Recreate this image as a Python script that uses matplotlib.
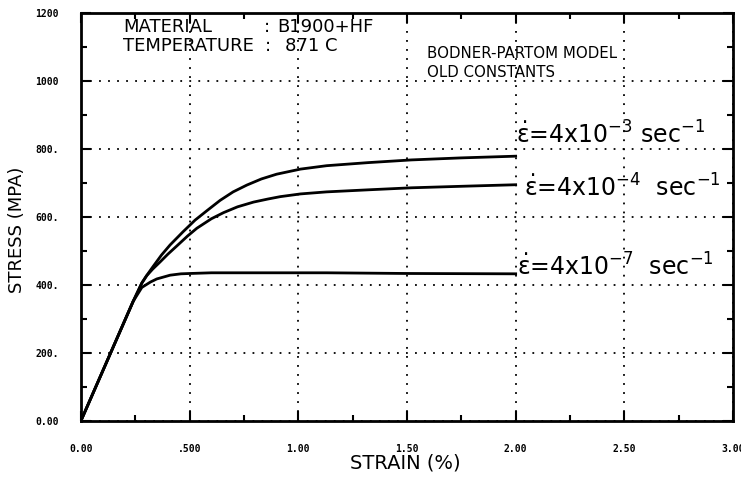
import matplotlib
matplotlib.use("Agg", force=True)
import matplotlib.pyplot as plt
from matplotlib.ticker import MultipleLocator

# Curves: strain (%) vs stress (MPa)
strain_3 = [0.0, 0.24, 0.28, 0.30, 0.33, 0.37, 0.41, 0.47, 0.525, 0.58, 0.64, 0.70, 0.763, 0.83, 0.90,
            1.01, 1.13, 1.32, 1.52, 1.75, 2.0]
stress_3 = [0, 351, 405, 425, 452, 487, 517, 556, 590, 618, 648, 673, 693, 711, 725,
            740, 750, 759, 767, 773, 778]

strain_4 = [0.0, 0.24, 0.28, 0.303, 0.33, 0.364, 0.40, 0.441, 0.49, 0.533, 0.60, 0.656, 0.72, 0.794, 0.86,
            0.917, 1.01, 1.13, 1.32, 1.52, 1.78, 2.0]
stress_4 = [0, 351, 405, 427, 446, 467, 490, 514, 543, 566, 594, 612, 629, 643, 652,
            659, 667, 673, 679, 685, 690, 694]

strain_7 = [0.0, 0.24, 0.28, 0.32, 0.349, 0.41, 0.46, 0.502, 0.60, 0.763, 1.13, 1.5, 2.0]
stress_7 = [0, 351, 392, 408, 417, 428, 432, 433, 435, 435, 435, 433, 432]

x_ticks = [0.0, 0.5, 1.0, 1.5, 2.0, 2.5, 3.0]
x_labels = ["0.00", ".500", "1.00", "1.50", "2.00", "2.50", "3.00"]
y_ticks = [0, 200, 400, 600, 800, 1000, 1200]
y_labels = ["0.00", "200.", "400.", "600.", "800.", "1000", "1200"]

W, H = 741, 495


def fx(px):
    return px / W


def fy(py):
    return 1 - py / H


fig = plt.figure(figsize=(W / 100, H / 100), dpi=100)
ax = fig.add_axes([fx(81), fy(420.7), (733 - 81) / W, (420.7 - 12.7) / H])

for s, t in [(strain_3, stress_3), (strain_4, stress_4), (strain_7, stress_7)]:
    ax.plot(s, t, color="black", lw=2.0, solid_joinstyle="round", zorder=3)

ax.set_xlim(0, 3.0)
ax.set_ylim(0, 1200)
ax.set_xticks(x_ticks)
ax.set_xticklabels(x_labels)
ax.set_yticks(y_ticks)
ax.set_yticklabels(y_labels)
ax.xaxis.set_minor_locator(MultipleLocator(0.25))
ax.yaxis.set_minor_locator(MultipleLocator(100))

ax.tick_params(which="both", direction="in", top=True, right=True, width=1.5, color="black")
ax.tick_params(which="major", length=7)
ax.tick_params(which="minor", length=4)
ax.tick_params(axis="x", which="major", pad=17)
ax.tick_params(axis="y", which="major", pad=16)
for lab in ax.get_xticklabels() + ax.get_yticklabels():
    lab.set_fontfamily("DejaVu Sans Mono")
    lab.set_fontweight("bold")
    lab.set_fontsize(7)

for sp in ax.spines.values():
    sp.set_linewidth(2.0)

ax.grid(True, which="major", color="black", linestyle=(0, (1, 4)), lw=1.3)

# Rate labels at the curve ends
ax.text(2.0, 816, r"$\mathrm{\dot{\varepsilon}}$=4x10$^{-3}$ sec$^{-1}$", fontsize=17, va="baseline", ha="left")
ax.text(2.037, 658, r"$\mathrm{\dot{\varepsilon}}$=4x10$^{-4}$  sec$^{-1}$", fontsize=17, va="baseline", ha="left")
ax.text(2.005, 426, r"$\mathrm{\dot{\varepsilon}}$=4x10$^{-7}$  sec$^{-1}$", fontsize=17, va="baseline", ha="left")

# Header block
fig.text(fx(123), fy(32), "MATERIAL", fontsize=13, va="baseline")
fig.text(fx(264), fy(32), ":", fontsize=13, va="baseline")
fig.text(fx(277), fy(32), "B1900+HF", fontsize=13, va="baseline")
fig.text(fx(123), fy(51), "TEMPERATURE", fontsize=13, va="baseline")
fig.text(fx(265), fy(51), ":", fontsize=13, va="baseline")
fig.text(fx(285), fy(51), "871 C", fontsize=13, va="baseline")
fig.text(fx(427), fy(58), "BODNER-PARTOM MODEL", fontsize=10.8, va="baseline")
fig.text(fx(427), fy(77), "OLD CONSTANTS", fontsize=10.8, va="baseline")

fig.text(fx(17), fy(230), "STRESS (MPA)", fontsize=13, rotation=90, ha="center", va="center")
fig.text(fx(405), fy(463), "STRAIN (%)", fontsize=14, ha="center", va="center")

fig.savefig("out.png", dpi=100)
plt.close(fig)
